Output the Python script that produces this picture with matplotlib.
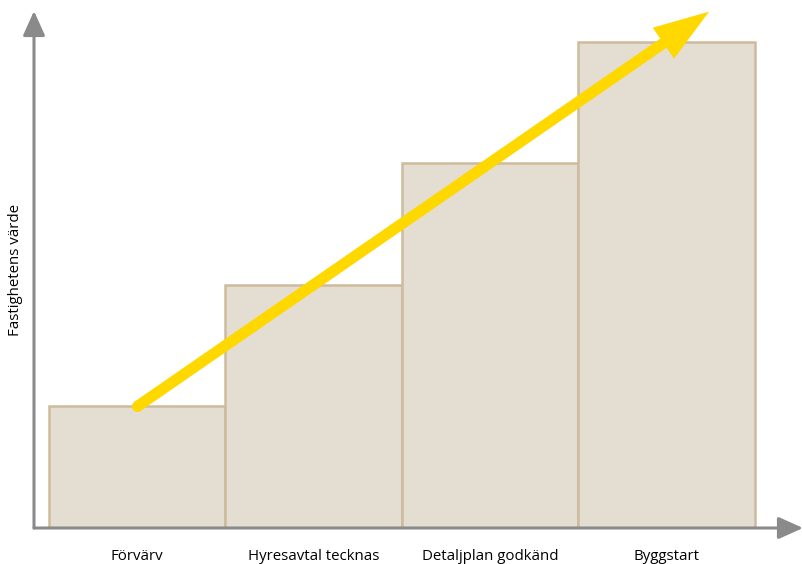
import matplotlib.pyplot as plt

# stages and relative property value
stages = ["Förvärv", "Hyresavtal tecknas", "Detaljplan godkänd", "Byggstart"]
values = [1, 2, 3, 4]
ylabel = "Fastighetens värde"

bar_fill = "#E4DDD1"
bar_edge = "#CDBB9C"
axis_grey = "#8A8A8A"
yellow = "#FFD800"

plt.rcParams['font.family'] = ['Open Sans', 'DejaVu Sans']

fig = plt.figure(figsize=(8.03, 5.64), dpi=100)
# axes from the y axis line to the right edge, baseline at the x axis
ax = fig.add_axes([34 / 803, 36 / 564, 769 / 803, 517 / 564])

x = list(range(len(stages)))
ax.bar(x, values, width=1.0, color=bar_fill, edgecolor=bar_edge, linewidth=1.8, zorder=2)

ax.set_xlim(-0.585, 3.772)
ax.set_ylim(0, 4.255)
for s in ax.spines.values():
    s.set_visible(False)
ax.set_yticks([])
ax.set_xticks(x)
ax.set_xticklabels(stages, fontsize=10.8)
ax.tick_params(axis='x', length=0, pad=15)

# axis arrows
ax.annotate("", xy=(0, 1.0), xytext=(0, 0), xycoords='axes fraction',
            arrowprops=dict(arrowstyle="-|>,head_length=1.0,head_width=0.45",
                            color=axis_grey, lw=2.2, mutation_scale=15, shrinkA=0, shrinkB=0),
            annotation_clip=False, zorder=3)
ax.annotate("", xy=(1.0, 0), xytext=(0, 0), xycoords='axes fraction',
            arrowprops=dict(arrowstyle="-|>,head_length=1.0,head_width=0.45",
                            color=axis_grey, lw=2.2, mutation_scale=15, shrinkA=0, shrinkB=0),
            annotation_clip=False, zorder=3)

# yellow trend arrow (filled shape, rounded start)
ax.annotate("", xy=(3.24, 4.25), xytext=(0, values[0]),
            arrowprops=dict(arrowstyle="simple,head_length=4.0,head_width=2.7,tail_width=0.8",
                            color=yellow, lw=0, mutation_scale=10,
                            shrinkA=0, shrinkB=0),
            annotation_clip=False, zorder=4)
ax.plot([0], [values[0]], 'o', color=yellow, markersize=8, markeredgewidth=0, zorder=4)

fig.text(16 / 803, 1 - 270 / 564, ylabel, rotation=90, fontsize=10.8,
         ha='center', va='center')

fig.savefig("out.png", dpi=100)
